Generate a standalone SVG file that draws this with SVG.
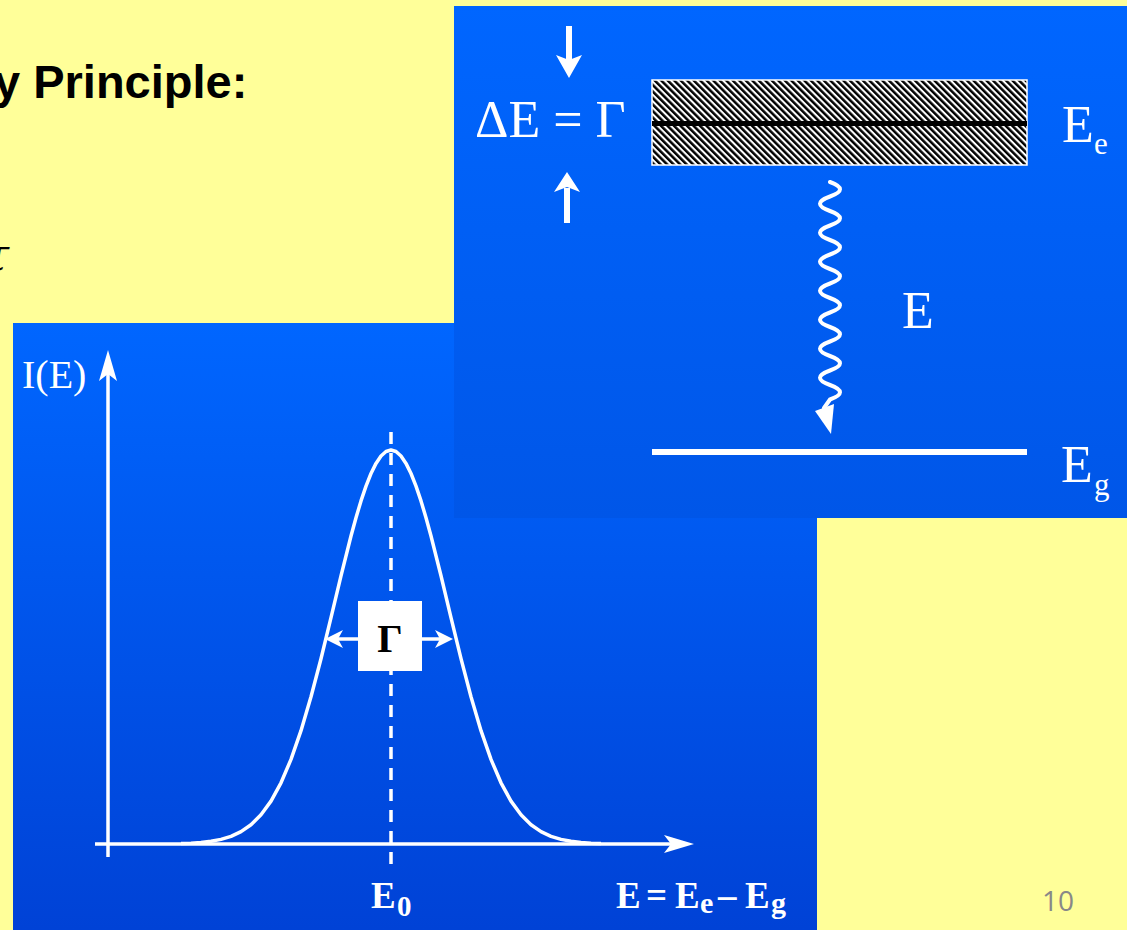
<svg xmlns="http://www.w3.org/2000/svg" width="1127" height="930" viewBox="0 0 1127 930">
<style>
.ser{font-family:"Liberation Serif","Times New Roman",serif;fill:#fff}
.bold{font-weight:bold}
.wl{stroke:#fff;fill:none}
.wf{fill:#fff}
.slide{font-family:"Liberation Sans",Arial,sans-serif;font-weight:bold;fill:#000}
</style>
<defs>
<linearGradient id="gTop" x1="0" y1="0" x2="0" y2="1"><stop offset="0" stop-color="#0066FF"/><stop offset="1" stop-color="#0056E8"/></linearGradient>
<linearGradient id="gBot" x1="0" y1="0" x2="0" y2="1"><stop offset="0" stop-color="#0066FF"/><stop offset="1" stop-color="#0042D6"/></linearGradient>
<pattern id="hatch" width="4.6" height="10" patternUnits="userSpaceOnUse" patternTransform="rotate(-45)">
<rect width="4.6" height="10" fill="#fff"/><rect width="2.5" height="10" fill="#000"/>
</pattern>
</defs>
<rect width="1127" height="930" fill="#FFFF99"/>
<g id="slide-text">
<text class="slide" x="-6" y="98" font-size="47">y Principle:</text>
<text x="9" y="270" font-size="44" text-anchor="end" font-style="italic" font-family="'DejaVu Serif',serif" fill="#000">τ</text>
</g>
<g id="panel-spectrum">
<rect x="13" y="323" width="804" height="607" fill="url(#gBot)"/>
<path id="gaussian" class="wl" stroke-width="3.5" stroke-linejoin="round" d="M181,843.6 L191,843.2 L201,842.5 L211,841.3 L221,839.4 L231,836.3 L241,831.6 L251,824.7 L261,814.8 L271,801.1 L281,782.8 L291,759.4 L301,730.7 L311,696.8 L321,658.7 L331,617.6 L341,575.8 L351,536 L356,517.7 L361,500.9 L366,486.1 L371,473.5 L376,463.4 L381,456 L386,451.5 L391,450 L396,451.5 L401,456 L406,463.4 L411,473.5 L416,486.1 L421,500.9 L426,517.7 L431,536 L441,575.8 L451,617.6 L461,658.7 L471,696.8 L481,730.7 L491,759.4 L501,782.8 L511,801.1 L521,814.8 L531,824.7 L541,831.6 L551,836.3 L561,839.4 L571,841.3 L581,842.5 L591,843.2 L601,843.6"/>
<line class="wl" x1="391" y1="432" x2="391" y2="866" stroke-width="3.5" stroke-dasharray="12 9"/>
<text class="ser" x="22" y="388" font-size="40">I(E)</text>
<g id="gamma-box">
<rect x="358" y="601" width="64" height="70" fill="#fff"/>
<text x="390" y="652" font-size="40" text-anchor="middle" font-family="'Liberation Serif',serif" font-weight="bold" fill="#000">Γ</text>
</g>
<text class="ser bold" x="371" y="908" font-size="37">E</text>
<text class="ser bold" x="397" y="916" font-size="29">0</text>
<g class="ser bold">
<text x="616" y="908" font-size="37">E</text>
<text x="646" y="908" font-size="37">=</text>
<text x="675" y="908" font-size="37">E</text>
<text x="700" y="913" font-size="30">e</text>
<text x="718" y="908" font-size="37" textLength="22">–</text>
<text x="745" y="908" font-size="37">E</text>
<text x="771" y="913" font-size="30">g</text>
</g>
</g>
<g id="panel-levels">
<rect x="454" y="6" width="673" height="512" fill="url(#gTop)"/>
<g id="excited-level">
<rect x="652" y="80" width="375" height="85" fill="url(#hatch)" stroke="#fff" stroke-width="1.5"/>
<rect x="652" y="121" width="375" height="5" fill="#000"/>
</g>
<rect id="ground-level" x="652" y="449" width="375" height="6" fill="#fff"/>
<text class="ser" x="475" y="137" font-size="52">ΔE = Γ</text>
<text class="ser" x="1062" y="142" font-size="52">E</text>
<text class="ser" x="1094" y="154" font-size="31">e</text>
<text class="ser" x="1061" y="482" font-size="52">E</text>
<text class="ser" x="1094" y="495" font-size="31">g</text>
<text class="ser" x="902" y="328" font-size="52">E</text>
</g>
<g id="connectors">
<line class="wl" x1="108" y1="857" x2="108" y2="362" stroke-width="3.5"/>
<polygon class="wf" points="108,350 117,381 108,374 99,381"/>
<line class="wl" x1="95" y1="844" x2="682" y2="844" stroke-width="3.5"/>
<polygon class="wf" points="694,844 664,835 671,844 664,853"/>
<line class="wl" x1="358" y1="639" x2="336" y2="639" stroke-width="3.5"/>
<polygon class="wf" points="325,639 343,630 338,639 343,648"/>
<line class="wl" x1="422" y1="639" x2="444" y2="639" stroke-width="3.5"/>
<polygon class="wf" points="453,639 435,630 440,639 435,648"/>
<line class="wl" x1="569" y1="26" x2="569" y2="60" stroke-width="6"/>
<polygon class="wf" points="556,55 569,60 582,55 569,78"/>
<line class="wl" x1="567" y1="188" x2="567" y2="223" stroke-width="6"/>
<polygon class="wf" points="554,192 567,187 580,192 567,172"/>
<path class="wl" stroke-width="4" stroke-linecap="round" d="M830,182 q20,7.25 0,14.5 t0,14.5 t0,14.5 t0,14.5 t0,14.5 t0,14.5 t0,14.5 t0,14.5 t0,14.5 t0,14.5 t0,14.5 t0,14.5 t0,14.5 t0,14.5 t0,14.5 L824,408"/>
<polygon class="wf" points="815,411 834,404 831,434"/>
</g>
<text x="1042" y="911" font-size="28" font-family="'Open Sans','Liberation Sans',sans-serif" fill="#888">10</text>
</svg>
